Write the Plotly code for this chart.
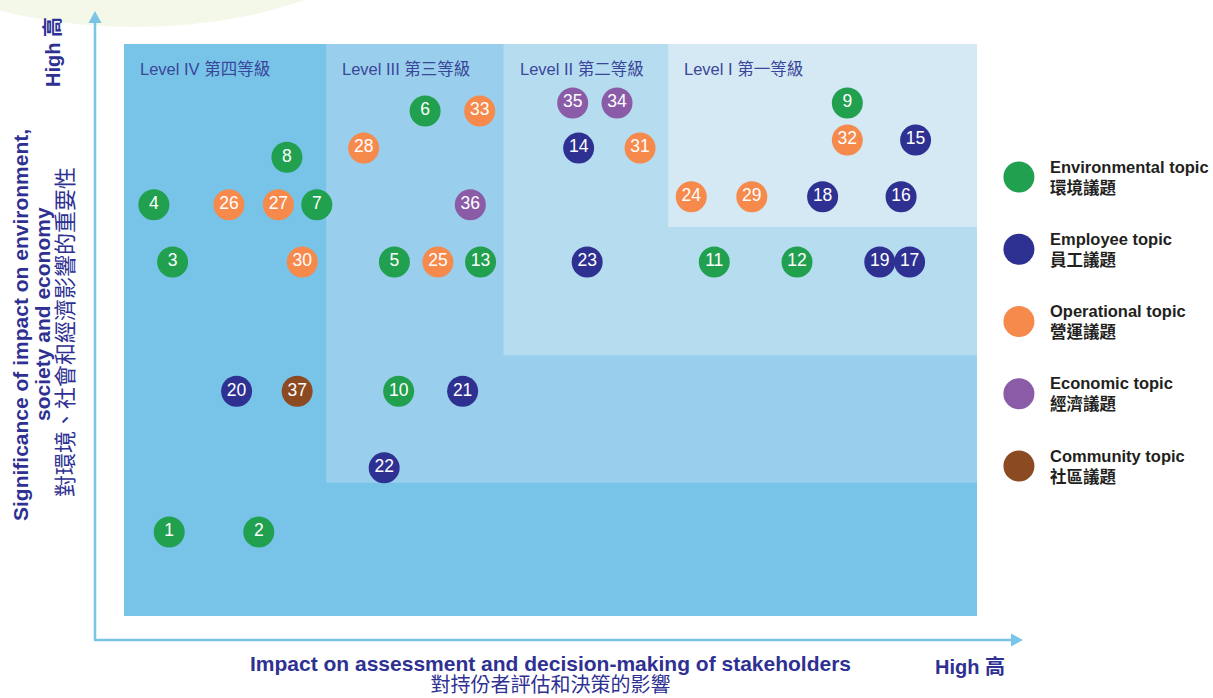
import plotly.graph_objects as go

# ---------------- data ----------------
topic_ids = [1, 2, 3, 4, 5, 6, 7, 8, 9, 10,
             11, 12, 13, 14, 15, 16, 17, 18, 19, 20,
             21, 22, 23, 24, 25, 26, 27, 28, 29, 30,
             31, 32, 33, 34, 35, 36, 37]
# impact on assessment and decision-making of stakeholders (0-10)
stakeholder_impact = [0.53, 1.58, 0.57, 0.35, 3.17, 3.53, 2.26, 1.91, 8.48, 3.22,
                      6.92, 7.89, 4.18, 5.33, 9.28, 9.11, 9.21, 8.19, 8.86, 1.32,
                      3.97, 3.05, 5.43, 6.65, 3.68, 1.23, 1.81, 2.81, 7.36, 2.09,
                      6.05, 8.48, 4.17, 5.78, 5.26, 4.06, 2.03]
# significance of impact on environment, society and economy (0-10)
significance = [1.47, 1.47, 6.19, 7.19, 6.19, 8.83, 7.19, 8.02, 8.97, 3.93,
                6.19, 6.19, 6.19, 8.18, 8.32, 7.33, 6.19, 7.33, 6.19, 3.93,
                3.93, 2.59, 6.19, 7.33, 6.19, 7.19, 7.19, 8.18, 7.33, 6.19,
                8.18, 8.32, 8.83, 8.97, 8.97, 7.19, 3.93]
topic_category = ["env", "env", "env", "env", "env", "env", "env", "env", "env", "env",
                  "env", "env", "env", "emp", "emp", "emp", "emp", "emp", "emp", "emp",
                  "emp", "emp", "emp", "ops", "ops", "ops", "ops", "ops", "ops", "ops",
                  "ops", "ops", "ops", "eco", "eco", "eco", "com"]

category_keys = ["env", "emp", "ops", "eco", "com"]
category_labels = ["Environmental topic<br>環境議題",
                   "Employee topic<br>員工議題",
                   "Operational topic<br>營運議題",
                   "Economic topic<br>經濟議題",
                   "Community topic<br>社區議題"]
category_colors = ["#21A04F", "#2E3192", "#F6894C", "#8A5CA8", "#8B4A22"]

# level zones: lower-left corner thresholds (x, y) of each zone
level_names = ["Level IV 第四等級", "Level III 第三等級", "Level II 第二等級", "Level I 第一等級"]
level_x_min = [0.0, 2.37, 4.45, 6.38]
level_y_min = [0.0, 2.33, 4.56, 6.80]
level_colors = ["#78C4E8", "#99CFEC", "#B6DCF0", "#D4E9F4"]

x_title_en = "Impact on assessment and decision-making of stakeholders"
x_title_zh = "對持份者評估和決策的影響"

# ---------------- figure ----------------
W, H = 1213, 698
FONT = "Liberation Sans, Arial, Noto Sans CJK TC, sans-serif"
TITLE_COLOR = "#2E3192"
ARROW_COLOR = "#7AC4E8"


def px(x):
    return x / W


def py(y):
    return 1 - y / H


fig = go.Figure()

for key, color in zip(category_keys, category_colors):
    idx = [i for i, c in enumerate(topic_category) if c == key]
    fig.add_trace(go.Scatter(
        x=[stakeholder_impact[i] for i in idx],
        y=[significance[i] for i in idx],
        text=[str(topic_ids[i]) for i in idx],
        mode="markers+text",
        marker=dict(size=31, color=color, line=dict(width=0)),
        textposition="middle center",
        textfont=dict(family=FONT, size=17.5, color="white"),
        cliponaxis=False,
        showlegend=False,
        hoverinfo="skip",
        xaxis="x", yaxis="y",
    ))

# custom legend on a side axis
fig.add_trace(go.Scatter(
    x=[0] * len(category_keys),
    y=list(range(len(category_keys))),
    mode="markers",
    marker=dict(size=31, color=category_colors, line=dict(width=0)),
    showlegend=False, hoverinfo="skip",
    xaxis="x2", yaxis="y2", cliponaxis=False,
))

shapes = []
# faint decorative ellipse top-left
shapes.append(dict(type="circle", xref="paper", yref="paper",
                   x0=px(-150), x1=px(420), y0=py(27), y1=py(-249),
                   fillcolor="#F4F8E8", line=dict(width=0), layer="below"))
# level zones
for x0, y0, col in zip(level_x_min, level_y_min, level_colors):
    shapes.append(dict(type="rect", xref="x", yref="y", x0=x0, x1=10, y0=y0, y1=10,
                       fillcolor=col, line=dict(width=0), layer="below"))
# axis arrows
shapes.append(dict(type="line", xref="paper", yref="paper",
                   x0=px(95), x1=px(95), y0=py(640), y1=py(20),
                   line=dict(color=ARROW_COLOR, width=2.5)))
shapes.append(dict(type="line", xref="paper", yref="paper",
                   x0=px(94), x1=px(1013), y0=py(640), y1=py(640),
                   line=dict(color=ARROW_COLOR, width=2.5)))
shapes.append(dict(type="path", xref="paper", yref="paper",
                   path=f"M {px(95)} {py(11)} L {px(88.5)} {py(23)} L {px(101.5)} {py(23)} Z",
                   fillcolor=ARROW_COLOR, line=dict(width=0)))
shapes.append(dict(type="path", xref="paper", yref="paper",
                   path=f"M {px(1023)} {py(640)} L {px(1011)} {py(633.5)} L {px(1011)} {py(646.5)} Z",
                   fillcolor=ARROW_COLOR, line=dict(width=0)))

annotations = []
for name, x0 in zip(level_names, level_x_min):
    annotations.append(dict(x=x0, y=10, xref="x", yref="y", text=name, showarrow=False,
                            xanchor="left", yanchor="middle", xshift=14, yshift=-25,
                            font=dict(family=FONT, size=16.5, color="#3A4699")))
for i, lab in enumerate(category_labels):
    annotations.append(dict(x=0.6, y=i, xref="x2", yref="y2", text=f"<b>{lab}</b>",
                            showarrow=False, xanchor="left", yanchor="middle", align="left",
                            font=dict(family=FONT, size=16.5, color="#231F20")))


def title_ann(x, y, text, size, angle=0):
    return dict(x=px(x), y=py(y), xref="paper", yref="paper", showarrow=False,
                xanchor="center", yanchor="middle", textangle=angle, text=text,
                font=dict(family=FONT, size=size, color=TITLE_COLOR))


annotations += [
    title_ann(550, 674,
              f"<span style='font-size:21px'><b>{x_title_en}</b></span><br>"
              f"<span style='font-size:20px'>{x_title_zh}</span>", 16.5),
    title_ann(970, 666, "<b>High 高</b>", 20),
    title_ann(20, 325, "<b>Significance of impact on environment,</b>", 21, -90),
    title_ann(42, 314, "<b>society and economy</b>", 21, -90),
    title_ann(66, 332, "對環境、社會和經濟影響的重要性", 22, -90),
    title_ann(53, 52, "<b>High 高</b>", 20, -90),
]

hidden = dict(showgrid=False, zeroline=False, showticklabels=False, ticks="",
              showline=False, fixedrange=True)
fig.update_layout(
    width=W, height=H,
    margin=dict(l=0, r=0, t=0, b=0),
    paper_bgcolor="white", plot_bgcolor="rgba(0,0,0,0)",
    xaxis=dict(domain=[124 / W, 977 / W], range=[0, 10], **hidden),
    yaxis=dict(domain=[1 - 616 / H, 1 - 44 / H], range=[0, 10], **hidden),
    xaxis2=dict(domain=[0.8, 1.0], range=[-1, 4], anchor="y2", **hidden),
    yaxis2=dict(domain=[0, 1], range=[7.21, -2.45], anchor="x2", **hidden),
    shapes=shapes,
    annotations=annotations,
    showlegend=False,
)

fig.write_html("out.html", config={"displayModeBar": False},
               post_script="document.body.style.margin='0';document.body.style.padding='0';")
